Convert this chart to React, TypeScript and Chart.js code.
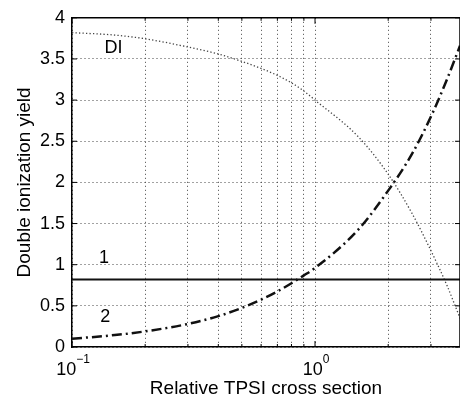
import React, { useEffect, useRef } from "react";
import { Chart, registerables } from "chart.js";

Chart.register(...registerables);

// ---- data ----
const xValues = [0.1, 0.15, 0.2, 0.3, 0.4, 0.5, 0.6, 0.7, 0.8, 0.9, 1.0, 1.5, 2.0, 2.5, 3.0, 3.5, 3.95];
const series1 = [0.82, 0.82, 0.82, 0.82, 0.82, 0.82, 0.82, 0.82, 0.82, 0.82, 0.82, 0.82, 0.82, 0.82, 0.82, 0.82, 0.82];
const series2 = [0.1, 0.145, 0.19, 0.28, 0.375, 0.475, 0.575, 0.675, 0.775, 0.87, 0.96, 1.42, 1.9, 2.34, 2.8, 3.26, 3.66];
const seriesDI = [3.82, 3.79, 3.745, 3.645, 3.56, 3.47, 3.385, 3.3, 3.21, 3.11, 3.0, 2.56, 2.1, 1.63, 1.17, 0.74, 0.35];

const xGridValues = [0.1, 0.2, 0.3, 0.4, 0.5, 0.6, 0.7, 0.8, 0.9, 1, 2, 3];
const xTickValues = [0.1, 1];
const xTickBases = ["10", "10"];
const xTickExps = ["\u22121", "0"];

const yMin = 0;
const yMax = 4;
const yStep = 0.5;

const labelTexts = ["DI", "1", "2"];
const labelX = [0.148, 0.1355, 0.137];
const labelY = [3.635, 1.08, 0.36];

const xTitle = "Relative TPSI cross section";
const yTitle = "Double ionization yield";

const FONT = "'Liberation Sans', Arial, Helvetica, sans-serif";

const decorPlugin = {
  id: "decor",
  afterDraw(chart: any) {
    const { ctx, chartArea: a, scales } = chart;
    const xs = scales.x;
    const ys = scales.y;
    ctx.save();
    // top and right box lines
    ctx.strokeStyle = "#000";
    ctx.lineWidth = 1.5;
    ctx.beginPath();
    ctx.moveTo(a.left, a.top);
    ctx.lineTo(a.right, a.top);
    ctx.lineTo(a.right, a.bottom);
    ctx.stroke();
    // inward tick marks
    ctx.lineWidth = 1;
    xGridValues.forEach((v) => {
      const px = xs.getPixelForValue(v);
      const len = xTickValues.includes(v) ? 6 : 3;
      ctx.beginPath();
      ctx.moveTo(px, a.bottom);
      ctx.lineTo(px, a.bottom - len);
      ctx.moveTo(px, a.top);
      ctx.lineTo(px, a.top + len);
      ctx.stroke();
    });
    for (let v = yMin; v <= yMax + 1e-9; v += yStep) {
      const py = ys.getPixelForValue(v);
      ctx.beginPath();
      ctx.moveTo(a.left, py);
      ctx.lineTo(a.left + 5, py);
      ctx.moveTo(a.right, py);
      ctx.lineTo(a.right - 5, py);
      ctx.stroke();
    }
    // x tick labels with superscripts
    ctx.fillStyle = "#000";
    ctx.textBaseline = "alphabetic";
    xTickValues.forEach((v, i) => {
      const px = xs.getPixelForValue(v);
      ctx.font = `18px ${FONT}`;
      const bw = ctx.measureText(xTickBases[i]).width;
      ctx.font = `12px ${FONT}`;
      const ew = ctx.measureText(xTickExps[i]).width;
      const start = px + 1 - (bw + ew) / 2;
      ctx.font = `18px ${FONT}`;
      ctx.textAlign = "left";
      ctx.fillText(xTickBases[i], start, a.bottom + 28);
      ctx.font = `12px ${FONT}`;
      ctx.fillText(xTickExps[i], start + bw, a.bottom + 16);
    });
    // curve labels
    ctx.font = `18px ${FONT}`;
    ctx.textAlign = "center";
    ctx.textBaseline = "middle";
    labelTexts.forEach((t, i) => {
      ctx.fillText(t, xs.getPixelForValue(labelX[i]), ys.getPixelForValue(labelY[i]));
    });
    ctx.restore();
  },
};

export default function App() {
  const ref = useRef<HTMLCanvasElement | null>(null);
  useEffect(() => {
    if (!ref.current) return;
    const mk = (ys: number[]) => xValues.map((x, i) => ({ x, y: ys[i] }));
    const chart = new Chart(ref.current, {
      type: "line",
      data: {
        datasets: [
          {
            label: "1",
            data: mk(series1),
            borderColor: "#111",
            borderWidth: 2,
            pointRadius: 0,
            fill: false,
          },
          {
            label: "2",
            data: mk(series2),
            borderColor: "#111",
            borderWidth: 2.5,
            borderDash: [10, 4, 2, 4],
            pointRadius: 0,
            cubicInterpolationMode: "monotone",
            fill: false,
          },
          {
            label: "DI",
            data: mk(seriesDI),
            borderColor: "#444",
            borderWidth: 1.3,
            borderDash: [1.3, 2.2],
            pointRadius: 0,
            cubicInterpolationMode: "monotone",
            fill: false,
          },
        ],
      },
      options: {
        animation: false,
        responsive: false,
        maintainAspectRatio: false,
        layout: { padding: { top: 13, right: 0, left: 0, bottom: 0 } },
        plugins: { legend: { display: false }, tooltip: { enabled: false } },
        scales: {
          x: {
            type: "logarithmic",
            min: 0.1,
            max: 3.95,
            afterBuildTicks: (s: any) => {
              s.ticks = xGridValues.map((v) => ({ value: v }));
            },
            afterFit: (s: any) => {
              s.height = 56;
            },
            ticks: { display: false },
            grid: { color: "#444", lineWidth: 1, drawTicks: false },
            border: { display: true, color: "#000", width: 1.5, dash: [1, 3] },
            title: {
              display: true,
              text: xTitle,
              color: "#000",
              font: { family: FONT, size: 19 },
              padding: { top: 0, bottom: 3 },
            },
          },
          y: {
            type: "linear",
            min: yMin,
            max: yMax,
            afterFit: (s: any) => {
              s.width = 72;
            },
            ticks: {
              stepSize: yStep,
              color: "#000",
              padding: 7,
              font: { family: FONT, size: 18 },
              callback: (v: any) => String(+v),
            },
            grid: { color: "#444", lineWidth: 1, drawTicks: false },
            border: { display: true, color: "#000", width: 1.5, dash: [1, 3] },
            title: {
              display: true,
              text: yTitle,
              color: "#000",
              font: { family: FONT, size: 19 },
              padding: { top: 13, bottom: 0 },
            },
          },
        },
      },
      plugins: [decorPlugin],
    } as any);
    return () => chart.destroy();
  }, []);
  return (
    <div style={{ position: "absolute", left: 0, top: 0, width: 460, height: 403, background: "#fff" }}>
      <canvas ref={ref} width={460} height={403} style={{ width: 460, height: 403 }} />
    </div>
  );
}
